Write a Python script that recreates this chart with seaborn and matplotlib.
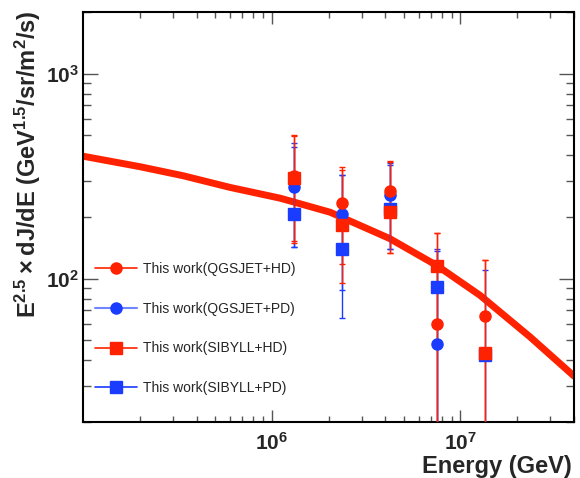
import numpy as np
import pandas as pd
import matplotlib
matplotlib.use('Agg')
import matplotlib.pyplot as plt
from matplotlib.lines import Line2D
from matplotlib.ticker import LogLocator, NullFormatter
import seaborn as sns

# datos
energia = [1.32e6, 2.37e6, 4.22e6, 7.5e6, 1.35e7]

qgs_hd = [316, 234, 267, 60, 66]
qgs_hd_up = [502, 349, 376, 167, 124]
qgs_hd_lo = [153, 118, 133, 5, 5]

qgs_pd = [279, 206, 257, 48, np.nan]
qgs_pd_up = [460, 320, 366, 139, np.nan]
qgs_pd_lo = [142, 88, 140, 5, np.nan]

sib_hd = [309, 182, 211, 115, 43.5]
sib_hd_up = [495, 340, 370, 167, 124]
sib_hd_lo = [150, 95, 133, 5, 5]

sib_pd = [206, 139, 220, 91, 42.4]
sib_pd_up = [440, 320, 360, 137, 110]
sib_pd_lo = [142, 64, 140, 5, 5]

# curva del modelo
curva_e = [1.0e5, 2.0e5, 3.39e5, 6.0e5, 1.11e6, 2.04e6, 4.22e6, 7.5e6, 1.27e7, 2.34e7, 4.0e7]
curva_f = [396, 352, 318, 279, 247, 211, 157, 116, 83, 52, 33.5]

etiquetas = ['This work(QGSJET+HD)', 'This work(QGSJET+PD)',
             'This work(SIBYLL+HD)', 'This work(SIBYLL+PD)']
xticks = [1e6, 1e7]
xtick_labels = [r'$10^{6}$', r'$10^{7}$']
yticks = [1e2, 1e3]
ytick_labels = [r'$10^{2}$', r'$10^{3}$']

rojo = '#ff2200'
azul = '#1a3cff'
azul_claro = '#6f86ff'

sns.set_style('ticks')
plt.rcParams['font.family'] = ['Liberation Sans', 'DejaVu Sans']
plt.rcParams['mathtext.default'] = 'regular'

fig = plt.figure(figsize=(5.8, 4.78), dpi=100)
ax = fig.add_axes([83/580, 1-422/478, 491/580, 410/478])

df_curva = pd.DataFrame({'E': curva_e, 'F': curva_f})
sns.lineplot(data=df_curva, x='E', y='F', color=rojo, lw=5, sort=False, ax=ax, zorder=1)

def serie(y, up, lo, color, marker):
    y = np.array(y, dtype=float)
    err = [y - np.array(lo, dtype=float), np.array(up, dtype=float) - y]
    ax.errorbar(energia, y, yerr=err, fmt=marker, color=color, ms=8, mec=color,
                elinewidth=1, capsize=2, capthick=1, zorder=3)

serie(qgs_pd, qgs_pd_up, qgs_pd_lo, azul, 'o')
serie(qgs_hd, qgs_hd_up, qgs_hd_lo, rojo, 'o')
serie(sib_pd, sib_pd_up, sib_pd_lo, azul, 's')
serie(sib_hd, sib_hd_up, sib_hd_lo, rojo, 's')

ax.set_xscale('log')
ax.set_yscale('log')
ax.set_xlim(1e5, 4e7)
ax.set_ylim(20, 2000)

ax.set_xticks(xticks)
ax.set_xticklabels(xtick_labels, fontsize=15, fontweight='bold')
ax.set_yticks(yticks)
ax.set_yticklabels(ytick_labels, fontsize=15, fontweight='bold')
ax.xaxis.set_minor_locator(LogLocator(base=10, subs=np.arange(2, 10)))
ax.yaxis.set_minor_locator(LogLocator(base=10, subs=np.arange(2, 10)))
ax.xaxis.set_minor_formatter(NullFormatter())
ax.yaxis.set_minor_formatter(NullFormatter())
ax.tick_params(axis='both', which='both', direction='in', top=True, right=True,
               color='#555555', width=1)
ax.tick_params(axis='x', which='major', length=8.5, pad=7)
ax.tick_params(axis='x', which='minor', length=4.3)
ax.tick_params(axis='y', which='major', length=11, pad=3)
ax.tick_params(axis='y', which='minor', length=5.8)
for s in ax.spines.values():
    s.set_linewidth(1.5)
    s.set_color('black')
ax.set_xlabel('')
ax.set_ylabel('')

handles = [
    Line2D([], [], color=rojo, lw=1.2, marker='o', ms=8),
    Line2D([], [], color=azul_claro, lw=1.5, marker='o', ms=8, mfc=azul, mec=azul),
    Line2D([], [], color=rojo, lw=1.2, marker='s', ms=8),
    Line2D([], [], color=azul, lw=1.2, marker='s', ms=8),
]
ax.legend(handles, etiquetas, loc='upper left', bbox_to_anchor=(12/491, 0.39),
          frameon=False, fontsize=10, handlelength=3.0, handletextpad=0.45,
          labelspacing=1.85, borderpad=0, borderaxespad=0)

fig.text(28/580, 1-10/478, r'$E^{2.5}\times$dJ/dE (GeV$^{1.5}$/sr/m$^{2}$/s)',
         rotation=90, ha='center', va='top', fontsize=17, fontweight='bold')
fig.text(572/580, 1-467/478, 'Energy (GeV)', ha='right', va='center',
         fontsize=17, fontweight='bold')

fig.savefig('out.png', dpi=100)
